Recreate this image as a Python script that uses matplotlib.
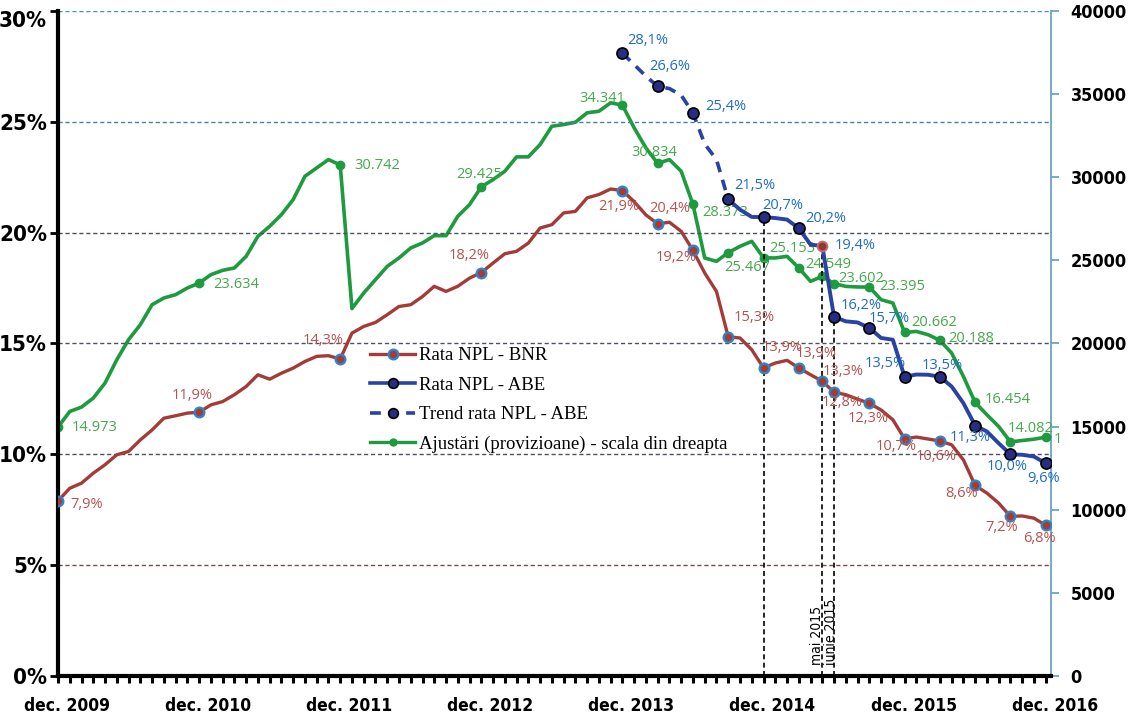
import matplotlib
matplotlib.use('Agg')
import matplotlib.pyplot as plt
from matplotlib.lines import Line2D
from matplotlib.transforms import ScaledTranslation, Bbox
from matplotlib import font_manager

# monthly index: 0 = dec. 2009 ... 84 = dec. 2016
months = list(range(85))
year_ticks = [0, 12, 24, 36, 48, 60, 72, 84]
year_labels = ['dec. 2009', 'dec. 2010', 'dec. 2011', 'dec. 2012',
               'dec. 2013', 'dec. 2014', 'dec. 2015', 'dec. 2016']

npl_bnr = [7.9, 8.47, 8.70, 9.15, 9.53, 9.98, 10.13, 10.65, 11.1, 11.63, 11.74, 11.86,
           11.9, 12.23, 12.38, 12.69, 13.06, 13.59, 13.39, 13.66, 13.89, 14.19, 14.42, 14.45,
           14.3, 15.47, 15.77, 15.95, 16.3, 16.67, 16.75, 17.12, 17.58, 17.35, 17.58, 17.95,
           18.2, 18.63, 19.05, 19.16, 19.53, 20.21, 20.36, 20.89, 20.96, 21.57, 21.72, 21.97,
           21.9, 21.4, 20.8, 20.4, 20.47, 20.06, 19.2, 18.18, 17.35, 15.3, 15.25, 14.72,
           13.9, 14.12, 14.24, 13.9, 13.59, 13.3, 12.8, 12.69, 12.49, 12.3, 12.0, 11.56,
           10.7, 10.78, 10.69, 10.6, 10.43, 9.75, 8.6, 8.25, 7.8, 7.2, 7.22, 7.12,
           6.8]

abe_months = list(range(57, 85))
npl_abe = [21.5, 21.04, 20.71, 20.7, 20.66, 20.59, 20.2, 19.46, 19.4, 16.2, 16.0, 15.95,
           15.7, 15.25, 15.17, 13.5, 13.6, 13.59, 13.5, 13.06, 12.31, 11.3, 11.03, 10.5,
           10.0, 9.98, 9.9, 9.6]

trend_months = list(range(48, 58))
trend_abe = [28.1, 27.58, 27.06, 26.6, 26.5, 26.2, 25.4, 24.0, 23.3, 21.5]

provisions = [14973, 15911, 16175, 16717, 17620, 19023, 20227, 21130, 22334, 22737, 22936, 23339,
              23634, 24140, 24400, 24543, 25242, 26446, 27048, 27752, 28655, 30058, 30562, 31063,
              30742, 22100, 23038, 23839, 24640, 25145, 25747, 26048, 26488, 26488, 27651, 28354,
              29425, 29859, 30359, 31225, 31225, 31966, 33068, 33170, 33309, 33874, 33971, 34477,
              34341, 32971, 31767, 30834, 31063, 30359, 28373, 25145, 24941, 25467, 25845, 26146,
              25153, 25145, 25242, 24549, 23737, 24040, 23602, 23436, 23400, 23395, 22635, 22436,
              20662, 20727, 20528, 20188, 19425, 18018, 16454, 15712, 15008, 14082, 14165, 14245,
              14366]

bnr_marks = [0, 12, 24, 36, 48, 51, 54, 57, 60, 63, 65, 66, 69, 72, 75, 78, 81, 84]
abe_marks = [57, 60, 63, 66, 69, 72, 75, 78, 81, 84]
trend_marks = [48, 51, 54]
prov_marks = [0, 12, 24, 36, 48, 51, 54, 57, 60, 63, 65, 66, 69, 72, 75, 78, 81, 84]

legend_labels = ['Rata NPL - BNR', 'Rata NPL - ABE', 'Trend rata NPL - ABE',
                 'Ajustări (provizioane) - scala din dreapta']

# label offsets in pixels (dx right, dy down) from the marker
bnr_off = {0: (29, 4), 12: (-7, -17), 24: (-17, -19), 36: (-12, -17), 48: (-4, 16),
           51: (12, -15), 54: (-17, 7), 57: (26, -19), 60: (19, -20), 63: (17, -14),
           65: (21, -10), 66: (8, 10), 69: (-1, 15), 72: (-8, 8), 75: (-4, 15),
           78: (-14, 8), 81: (-9, 11), 84: (-6, 13)}
abe_off = {57: (27, -14), 60: (19, -12), 63: (27, -10), 65: (33, 0), 66: (27, -11),
           69: (20, -9), 72: (-19, -13), 75: (2, -11), 78: (-5, 12), 81: (-3, 12), 84: (-2, 15)}
trend_off = {48: (25, -13), 51: (12, -20), 54: (33, -6)}
prov_off = {0: (37, 0), 12: (37, 1), 24: (37, 1), 36: (-2, -12), 48: (-20, -7), 51: (-3, -11),
            54: (32, 8), 57: (19, 15), 60: (29, -9), 63: (29, -3), 66: (27, -5), 69: (33, -1),
            72: (30, -10), 75: (31, -2), 78: (33, -3), 81: (20, -13), 84: (31, 2)}

RED = '#a33c39'
RED_TXT = '#b4524f'
BLUE = '#2a43a3'
BLUE_TXT = '#1f6cc2'
NAVY = '#272d80'
GREEN = '#1e9a3f'
GREEN_TXT = '#45a84b'
LABEL_FONT = ['Open Sans', 'DejaVu Sans']


def narrow(size):
    return font_manager.FontProperties(family='DejaVu Sans', stretch='condensed',
                                       weight='bold', size=size)


def label(axis, x, y, text, off, color):
    dx, dy = off
    return axis.annotate(text, (x, y), xytext=(dx * 0.72, -dy * 0.72), textcoords='offset points',
                         ha='center', va='center', color=color, fontsize=10.5,
                         family=LABEL_FONT, zorder=6)


fig = plt.figure(figsize=(11.33, 7.16), dpi=100)
ax = fig.add_axes([58 / 1133, 40 / 716, 993 / 1133, 665 / 716])
ax2 = ax.twinx()
ax.set_zorder(ax2.get_zorder() + 1)
ax.patch.set_visible(False)

ax.set_xlim(0, 84.45)
ax.set_ylim(0, 30)
ax2.set_ylim(0, 40000)

# grid
grid_cols = {30: '#4f8fb0', 25: '#4f7ea0', 20: '#4a5260', 15: '#4a5260', 10: '#4a5260', 5: '#7a4848'}
for lvl, c in grid_cols.items():
    ax.axhline(lvl, color=c, lw=1, ls=(0, (3, 2)), zorder=0)

# green - provisions on the right scale
ax2.plot(months, provisions, color=GREEN, lw=2.6, zorder=2)
ax2.plot(prov_marks, [provisions[m] for m in prov_marks], 'o', color=GREEN, ms=6, zorder=3)
for m, off in prov_off.items():
    t = label(ax2, m, provisions[m], f'{provisions[m] / 1000:.3f}', off, GREEN_TXT)
    if m == 84:
        t.set_clip_box(Bbox.from_extents(0, 0, 1061, 716))

# vertical markers for dec. 2014, mai 2015, iunie 2015
abe_at = dict(zip(abe_months, npl_abe))
for m in (60, 65, 66):
    ax.vlines(m, 0, abe_at[m], color='black', lw=1.2, ls=(0, (3, 2)), zorder=1)
vfont = font_manager.FontProperties(family='DejaVu Sans', stretch='condensed', size=10)
ax.text(64.58, 0.5, 'mai 2015', rotation=90, ha='center', va='bottom', fontproperties=vfont,
        color='black')
ax.text(65.7, 0.5, 'iunie 2015', rotation=90, ha='center', va='bottom', fontproperties=vfont,
        color='black')

# red - BNR
ax.plot(months, npl_bnr, color=RED, lw=2.4, zorder=3)
ax.plot(bnr_marks, [npl_bnr[m] for m in bnr_marks], 'o', mfc=RED, mec='#2e86c8', mew=1.6,
        ms=7, zorder=4)
for m, off in bnr_off.items():
    label(ax, m, npl_bnr[m], f'{npl_bnr[m]:.1f}%'.replace('.', ','), off, RED_TXT)

# blue - ABE and trend
ax.plot(trend_months, trend_abe, color=BLUE, lw=2.6, ls=(0, (3, 2.2)), zorder=3)
ax.plot(abe_months, npl_abe, color=BLUE, lw=2.8, zorder=3)
ax.plot(trend_marks, [trend_abe[trend_months.index(m)] for m in trend_marks], 'o', mfc=NAVY,
        mec='black', mew=1.2, ms=8, zorder=5)
ax.plot(abe_marks, [abe_at[m] for m in abe_marks], 'o', mfc=NAVY, mec='black', mew=1.2,
        ms=8, zorder=5)
ax.plot([65], [abe_at[65]], 'o', mfc='#8e3838', mec='#c86a6a', mew=1.4, ms=7, zorder=5)
for m, off in trend_off.items():
    v = trend_abe[trend_months.index(m)]
    label(ax, m, v, f'{v:.1f}%'.replace('.', ','), off, BLUE_TXT)
for m, off in abe_off.items():
    label(ax, m, abe_at[m], f'{abe_at[m]:.1f}%'.replace('.', ','), off, BLUE_TXT)

# axes styling
ax.spines['top'].set_visible(False)
ax2.spines['top'].set_visible(False)
ax.spines['left'].set_linewidth(3)
ax.spines['bottom'].set_linewidth(3)
ax.spines['right'].set_visible(False)
ax2.spines['left'].set_visible(False)
ax2.spines['bottom'].set_visible(False)
ax2.spines['right'].set_color('#6aa6bb')
ax2.spines['right'].set_linewidth(1.3)

ax.set_xticks(year_ticks)
ax.set_xticklabels(year_labels, fontproperties=narrow(12.5))
ax.set_xticks(months, minor=True)
ax.tick_params(axis='x', which='both', length=5, width=2.2, color='black', pad=10)
for lab in ax.get_xticklabels():
    lab.set_transform(lab.get_transform() + ScaledTranslation(9 / 100, 0, fig.dpi_scale_trans))

ax.set_yticks([0, 5, 10, 15, 20, 25, 30])
ax.set_yticklabels(['0%', '5%', '10%', '15%', '20%', '25%', '30%'], fontproperties=narrow(16))
ax.tick_params(axis='y', length=6, width=2, pad=2)
ax.get_yticklabels()[-1].set_va('top')

ax2.set_yticks(range(0, 40001, 5000))
ax2.set_yticklabels([str(v) for v in range(0, 40001, 5000)], fontproperties=narrow(13))
ax2.tick_params(axis='y', length=6, width=1.3, color='#6aa6bb', pad=8)

# legend
handles = [
    Line2D([], [], color=RED, lw=2.4, marker='o', mfc=RED, mec='#2e86c8', mew=1.6, ms=7),
    Line2D([], [], color=BLUE, lw=2.6, marker='o', mfc=NAVY, mec='black', mew=1.2, ms=7),
    Line2D([], [], color=BLUE, lw=2.6, ls=(0, (3, 2)), marker='o', mfc=NAVY, mec='black',
           mew=1.2, ms=7),
    Line2D([], [], color=GREEN, lw=2.4, marker='o', ms=5),
]
leg = ax.legend(handles, legend_labels, loc='upper left',
                bbox_to_anchor=(370 / 1133, 1 - 347 / 716), bbox_transform=fig.transFigure,
                frameon=False, borderpad=0, borderaxespad=0, handlelength=2.4,
                handletextpad=0.2, labelspacing=0.66,
                prop={'family': ['Liberation Serif'], 'size': 13.5})
leg.set_zorder(7)

fig.savefig('out.png', dpi=100)
